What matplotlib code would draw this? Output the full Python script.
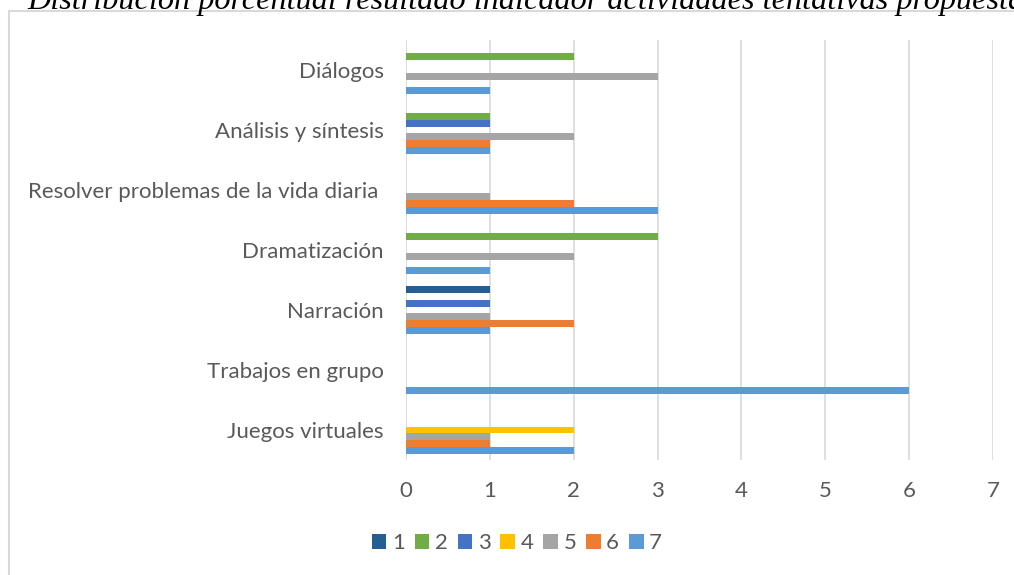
import numpy as np
import matplotlib
matplotlib.use("Agg")
import matplotlib.pyplot as plt
from matplotlib.patches import Patch, Rectangle

# categories listed bottom to top
categories = ["Juegos virtuales", "Trabajos en grupo", "Narración", "Dramatización",
              "Resolver problemas de la vida diaria ", "Análisis y síntesis", "Diálogos"]
series_names = ["1", "2", "3", "4", "5", "6", "7"]
s1 = [0, 0, 1, 0, 0, 0, 0]
s2 = [0, 0, 0, 3, 0, 1, 2]
s3 = [0, 0, 1, 0, 0, 1, 0]
s4 = [2, 0, 0, 0, 0, 0, 0]
s5 = [1, 0, 1, 2, 1, 2, 3]
s6 = [1, 0, 2, 0, 2, 1, 0]
s7 = [2, 6, 1, 1, 3, 1, 1]
colors = ["#255E91", "#70AD47", "#4472C4", "#FFC000", "#A5A5A5", "#ED7D31", "#5B9BD5"]
title = "Distribución porcentual resultado indicador actividades tentativas propuestas"

plt.rcParams['font.family'] = ['Lato', 'DejaVu Sans']
label_color = "#595959"
fs = 16

fig = plt.figure(figsize=(10.14, 5.75), dpi=100)
ax = fig.add_axes([406/1014, 1 - 460/575, (993 - 406)/1014, 420/575])

values = [s1, s2, s3, s4, s5, s6, s7]
y = np.arange(len(categories))
h = 0.113
# series "7" sits at the bottom of each group, "1" at the top
for i, (name, vals, c) in enumerate(zip(series_names, values, colors)):
    k = 6 - i
    ax.barh(y + (k - 3) * h, vals, height=h, color=c, edgecolor="none", zorder=3)

ax.set_xlim(0, 7)
ax.set_ylim(-0.5, len(categories) - 0.5)
ax.set_xticks(range(0, 8))
ax.set_yticks(y)
ax.set_yticklabels(categories)
ax.grid(axis="x", color="#D9D9D9", linewidth=1.2, zorder=0)
for s in ax.spines.values():
    s.set_visible(False)
ax.tick_params(axis="y", length=0, pad=16, labelsize=fs, labelcolor=label_color)
ax.tick_params(axis="x", length=0, pad=15, labelsize=fs, labelcolor=label_color)

handles = [Patch(facecolor=c, edgecolor="none") for c in colors]
fig.legend(handles, series_names, loc="center", bbox_to_anchor=(517/1014, 1 - 543/575),
           ncol=7, frameon=False, fontsize=fs, labelcolor=label_color,
           handlelength=0.65, handleheight=0.65, handletextpad=0.25, columnspacing=0.45)

# outer chart border
fig.patches.append(Rectangle((9/1014, -0.05), 1.1, 1 - 11/575 + 0.05, transform=fig.transFigure,
                             fill=False, edgecolor="#D9D9D9", linewidth=1.5))

fig.text(27/1014, 1 - 9/575, title, family="Liberation Serif", style="italic",
         fontsize=23.2, color="black", va="baseline", ha="left")

fig.savefig("out.png", dpi=100)
